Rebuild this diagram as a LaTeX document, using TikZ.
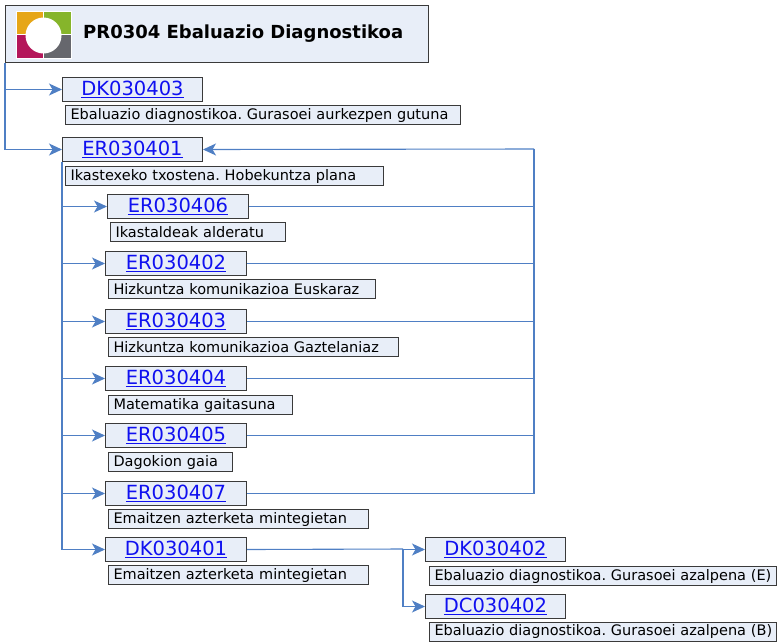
\documentclass[tikz,border=0pt]{standalone}
\usepackage{fontspec}
\setmainfont{DejaVu Sans}
\usetikzlibrary{arrows.meta}
\definecolor{boxfill}{HTML}{E8EEF8}
\definecolor{boxline}{HTML}{3A3A3A}
\definecolor{conn}{HTML}{4F7FC4}
\definecolor{linkblue}{HTML}{1010F0}
\definecolor{lgor}{HTML}{E6A617}
\definecolor{lggr}{HTML}{86B52B}
\definecolor{lgrd}{HTML}{B4165A}
\definecolor{lggy}{HTML}{66676D}
\frenchspacing
\tikzset{
  codebox/.style={draw=boxline, fill=boxfill, line width=1pt, minimum width=140pt, minimum height=24pt, inner sep=0pt, anchor=north west, text=linkblue, font=\fontsize{19.5}{22}\selectfont},
  descbox/.style={draw=boxline, fill=boxfill, line width=1pt, minimum height=19pt, inner sep=0pt, anchor=north west, font=\fontsize{14.5}{16}\selectfont\frenchspacing, text=black, align=left},
  arr/.style={draw=conn, line width=1.1pt, -{Stealth[length=13pt,width=12pt,inset=3.5pt]}},
  ln/.style={draw=conn, line width=1.1pt},
}
\newcommand{\lnk}[1]{\underline{#1}}
\newcommand{\dtx}[1]{\mbox{\hspace{2pt}#1}}
\begin{document}
\begin{tikzpicture}[x=1pt,y=-1pt]
\useasboundingbox (0,0) rectangle (777,641);
% title
\node[draw=boxline, fill=boxfill, line width=1pt, minimum width=423pt, minimum height=57pt, inner sep=0pt, anchor=north west] (title) at (5,5) {};
\fill[white] (15.5,10.5) rectangle (72,59);
\fill[lgor] (16.5,11.5) rectangle (43.1,34);
\fill[lggr] (43.9,11.5) rectangle (71,34);
\fill[lgrd] (16.5,34.8) rectangle (43.1,58);
\fill[lggy] (43.9,34.8) rectangle (71,58);
\fill[white] (43.5,35.5) circle (18);
\node[anchor=west, inner sep=0pt, font=\fontsize{18}{21}\selectfont\bfseries] (ttext) at (83,33.5) {PR0304 Ebaluazio Diagnostikoa};
% first level
\node[codebox] (dk403) at (62,77) {\lnk{DK030403}};
\node[descbox, minimum width=395pt, text width=389pt] (dk403d) at (65,105) {\dtx{Ebaluazio diagnostikoa. Gurasoei aurkezpen gutuna}};
\node[codebox] (er401) at (62,137) {\lnk{ER030401}};
\node[descbox, minimum width=318pt, text width=312pt] (er401d) at (65,166) {\dtx{Ikastexeko txostena. Hobekuntza plana}};
% second level
\node[codebox, minimum width=141pt] (er406) at (107,194) {\lnk{ER030406}};
\node[descbox, minimum width=175pt, text width=169pt] (er406d) at (110,222) {\dtx{Ikastaldeak alderatu}};
\node[codebox, minimum width=141pt] (er402) at (105,251) {\lnk{ER030402}};
\node[descbox, minimum width=267pt, text width=261pt] (er402d) at (108,279) {\dtx{Hizkuntza komunikazioa Euskaraz}};
\node[codebox, minimum width=141pt] (er403) at (105,309) {\lnk{ER030403}};
\node[descbox, minimum width=290pt, text width=284pt] (er403d) at (108,337) {\dtx{Hizkuntza komunikazioa Gaztelaniaz}};
\node[codebox, minimum width=141pt] (er404) at (105,366) {\lnk{ER030404}};
\node[descbox, minimum width=184pt, text width=178pt] (er404d) at (108,395) {\dtx{Matematika gaitasuna}};
\node[codebox, minimum width=141pt] (er405) at (105,423) {\lnk{ER030405}};
\node[descbox, minimum width=124pt, text width=118pt] (er405d) at (108,452) {\dtx{Dagokion gaia}};
\node[codebox, minimum width=141pt] (er407) at (105,481) {\lnk{ER030407}};
\node[descbox, minimum width=260pt, text width=254pt] (er407d) at (108,509) {\dtx{Emaitzen azterketa mintegietan}};
\node[codebox, minimum width=141pt] (dk401) at (105,537) {\lnk{DK030401}};
\node[descbox, minimum width=260pt, text width=254pt] (dk401d) at (108,565) {\dtx{Emaitzen azterketa mintegietan}};
% third level
\node[codebox] (dk402) at (425,537) {\lnk{DK030402}};
\node[descbox, minimum width=347pt, text width=341pt] (dk402d) at (429,566) {\dtx{Ebaluazio diagnostikoa. Gurasoei azalpena (E)}};
\node[codebox] (dc402) at (425,594) {\lnk{DC030402}};
\node[descbox, minimum width=347pt, text width=341pt] (dc402d) at (429,621.5) {\dtx{Ebaluazio diagnostikoa. Gurasoei azalpena (B)}};
% connectors
\draw[ln] (title.south west) -- (title.south west |- er401.west);
\draw[arr] (title.south west |- dk403.west) -- (dk403.west);
\draw[arr] (title.south west |- er401.west) -- (er401.west);
\draw[ln] (er401.south west) -- (er401.south west |- dk401.west);
\foreach \n in {er406,er402,er403,er404,er405,er407,dk401}
  \draw[arr] (er401.south west |- \n.west) -- (\n.west);
\coordinate (rbus) at (534,149);
\draw[ln] (rbus) -- (rbus |- er407.east);
\foreach \n in {er406,er402,er403,er404,er405,er407}
  \draw[ln] (\n.east) -- (\n.east -| rbus);
\draw[arr] (rbus) -- (er401.east);
\coordinate (split) at (403,549);
\draw[ln] (dk401.east) -- (split);
\draw[arr] (split) |- (dk402.west);
\draw[arr] (split) |- (dc402.west);
\end{tikzpicture}
\end{document}
